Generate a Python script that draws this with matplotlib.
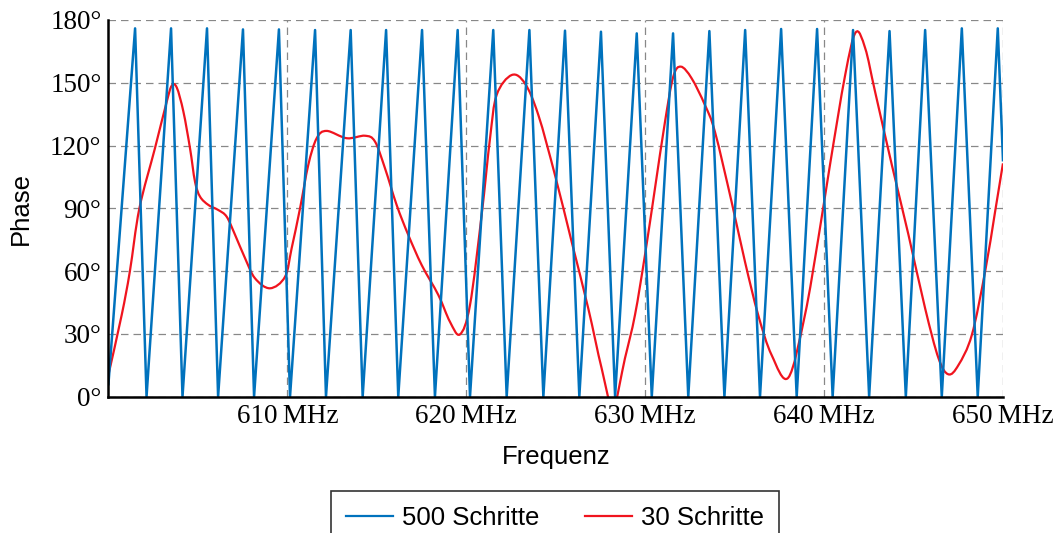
import matplotlib
matplotlib.use("Agg")
import matplotlib.pyplot as plt
from matplotlib.path import Path
from matplotlib.patches import PathPatch
from matplotlib.lines import Line2D

# 500 Schritte: corner points (MHz, degrees)
blue_f = [600.0, 601.49, 602.13, 603.50, 604.14, 605.51, 606.13, 607.52, 608.14,
          609.53, 610.15, 611.55, 612.16, 613.54, 614.21, 615.52, 616.20, 617.53,
          618.25, 619.52, 620.21, 621.51, 622.26, 623.53, 624.31, 625.52, 626.32,
          627.53, 628.32, 629.53, 630.37, 631.56, 632.41, 633.59, 634.43, 635.59,
          636.42, 637.60, 638.47, 639.61, 640.48, 641.62, 642.52, 643.66, 644.57,
          645.65, 646.58, 647.70, 648.59, 649.71, 650.0]
blue_phase = [6, 176.0, 0, 176.0, 0, 176.0, 0, 175.5, 0,
              175.5, 0, 175.2, 0, 175.2, 0, 175.2, 0, 175.2,
              0, 175.2, 0, 175.2, 0, 175.2, 0, 174.9, 0,
              174.4, 0, 173.6, 0, 173.6, 0, 174.7, 0, 175.2,
              0, 175.7, 0, 175.7, 0, 175.2, 0, 174.7, 0,
              175.2, 0, 176.0, 0, 176.0, 113]

# 30 Schritte: points
red_f = [600.0, 600.74, 601.20, 601.73, 602.60, 603.26, 603.54, 603.82,
         604.19, 604.56, 604.84, 605.12, 605.59, 606.14, 606.61, 607.08, 607.64,
         608.19, 609.03, 609.87, 610.24, 610.71, 611.17, 611.64,
         612.20, 613.32, 614.34, 614.90, 615.46, 616.11,
         616.76, 617.51, 618.44, 619.09, 619.65, 620.21,
         620.86, 621.33, 621.70, 622.54, 623.28, 624.03, 624.96,
         625.89, 626.82, 627.57, 628.20, 628.87, 629.43, 629.99, 630.55, 631.11,
         631.57, 632.00, 632.60, 633.34, 633.90, 634.83, 635.58, 636.32, 637.07,
         638.00, 638.93, 639.68, 640.33, 641.18,
         641.77, 642.30, 642.85, 643.79, 644.72, 645.65, 646.40,
         646.95, 647.51, 648.26, 649.00, 649.56, 650.0]
red_phase = [10.5, 39, 60, 90, 118.7, 141, 148.6, 147.7,
             136.2, 118.7, 102.7, 95.6, 91.6, 89.2, 86, 77.3, 66.1,
             56.6, 51.8, 57.3, 70.9, 90, 110.7, 123.5,
             127, 123.5, 124.7, 121.9, 109.1, 91.6,
             77.3, 62.9, 48.6, 35.8, 29.8, 43.8,
             86.8, 123.5, 144.2, 153.7, 149.7, 134.6, 105.9,
             74.1, 42.2, 13.5, -5, 18.3, 39, 67.7, 99.6, 131.4,
             152.9, 157.7, 152.1, 139.4, 126.6, 93.2, 64.5, 39, 19.9,
             9.1, 39, 75.7, 110.7, 153.7,
             174.1, 166.5, 145.8, 110.7, 77.3, 42.2, 18.3,
             10.7, 15.1, 29.5, 59.7, 88.4, 111.5]

x_ticks = [610, 620, 630, 640, 650]
x_ticklabels = ["610\u2009MHz", "620\u2009MHz", "630\u2009MHz", "640\u2009MHz", "650\u2009MHz"]
y_ticks = [0, 30, 60, 90, 120, 150, 180]

BLUE = '#0072BD'
RED = '#F0141E'


def smooth_path(xs, ys):
    # Catmull-Rom style bezier through the points, like a "smooth" plot option
    pts = list(zip(xs, ys))
    verts = [pts[0]]
    codes = [Path.MOVETO]
    n = len(pts)
    for i in range(n - 1):
        p0 = pts[max(i - 1, 0)]
        p1 = pts[i]
        p2 = pts[i + 1]
        p3 = pts[min(i + 2, n - 1)]
        c1 = (p1[0] + (p2[0] - p0[0]) / 6, p1[1] + (p2[1] - p0[1]) / 6)
        c2 = (p2[0] - (p3[0] - p1[0]) / 6, p2[1] - (p3[1] - p1[1]) / 6)
        verts += [c1, c2, p2]
        codes += [Path.CURVE4] * 3
    return Path(verts, codes)


fig = plt.figure(figsize=(10.61, 5.33), dpi=100)
ax = fig.add_axes([0.1022, 0.2557, 0.8431, 0.7068])

ax.plot(blue_f, blue_phase, color=BLUE, lw=1.8, solid_joinstyle='round')
red_patch = PathPatch(smooth_path(red_f, red_phase), fill=False,
                      edgecolor=RED, lw=1.6, transform=ax.transData)
ax.add_patch(red_patch)

ax.set_xlim(600, 650)
ax.set_ylim(0, 180)
ax.set_xticks(x_ticks)
ax.set_xticklabels(x_ticklabels)
ax.set_yticks(y_ticks)
ax.set_yticklabels([f"{v}\u00b0" for v in y_ticks])
for lab in ax.get_xticklabels() + ax.get_yticklabels():
    lab.set_family('Liberation Serif')
    lab.set_fontsize(19.5)
ax.tick_params(length=0, pad=5)

ax.grid(True, color='#888888', linestyle=(0, (6, 4)), linewidth=0.9)
ax.set_axisbelow(True)
for s in ['top', 'right']:
    ax.spines[s].set_visible(False)
for s in ['left', 'bottom']:
    ax.spines[s].set_linewidth(1.8)

ax.set_xlabel('Frequenz', family='Liberation Sans', fontsize=18.5, labelpad=12)
ax.set_ylabel('Phase', family='Liberation Sans', fontsize=18.5, labelpad=12)

handles = [Line2D([], [], color=BLUE, lw=1.6), Line2D([], [], color=RED, lw=1.6)]
leg = fig.legend(handles, ['500 Schritte', '30 Schritte'],
                 loc='upper center', bbox_to_anchor=(0.5231, 0.0788), ncol=2,
                 prop={'family': 'Liberation Sans', 'size': 18.5},
                 frameon=True, fancybox=False, edgecolor='black',
                 handlelength=1.8, handletextpad=0.35, columnspacing=1.8,
                 borderpad=0.6, borderaxespad=0)
leg.get_frame().set_linewidth(1.2)

fig.savefig('out.png', dpi=100)
